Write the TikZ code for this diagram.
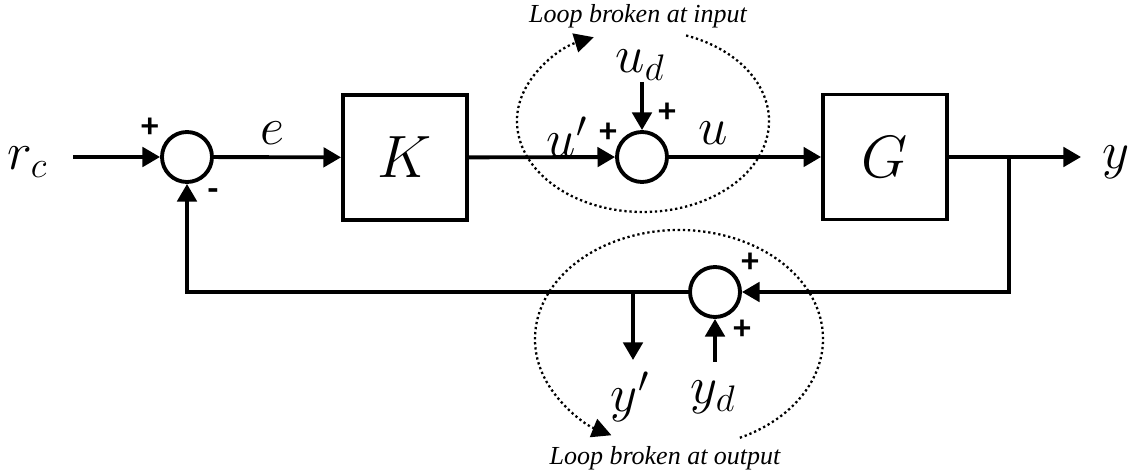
\documentclass[tikz,border=0pt]{standalone}
\usepackage{fix-cm}
\usepackage{fontspec}
\usepackage{tikz}
\usetikzlibrary{positioning, calc, arrows.meta}
\newfontfamily\notefont{Liberation Serif}
\newfontfamily\signfont{Carlito}

\begin{document}
\begin{tikzpicture}[
  line width=2.2pt,
  sumnode/.style={circle, draw, minimum size=1cm, inner sep=0pt},
  block/.style={draw, minimum width=2.48cm, minimum height=2.5cm, inner sep=0pt,
                font=\fontsize{34}{40}\selectfont},
  sig/.style={-{Triangle[length=10pt,width=11pt]}},
  lbl/.style={inner sep=0pt, font=\fontsize{30}{34}\selectfont},
  sign/.style={inner sep=0pt, font=\signfont\bfseries\fontsize{20}{22}\selectfont},
  loopline/.style={line width=1.3pt, dash pattern=on 1.3pt off 1.6pt,
                   -{Triangle[length=11pt,width=11pt]}},
  note/.style={inner sep=0pt, font=\notefont\itshape\fontsize{14.8}{17}\selectfont}
]
\useasboundingbox (0,0) rectangle (22.72,-9.48);

%% ── forward path ─────────────────────────────────────────────────
\node[lbl] (rc) at (0.55,-3.24) {$r_c$};
\coordinate (in) at (1.46,-3.14);
\node[sumnode] (s1) at (3.74,-3.14) {};
\node[block] (K) at (8.10,-3.15) {$K$};
\node[sumnode] (s2) at (12.84,-3.14) {};
\node[block] (G) at (17.70,-3.14) {$G$};
\coordinate (br) at (20.18,-3.14);
\coordinate (out) at (21.62,-3.14);
\node[lbl] (y) at (22.32,-3.24) {$y$};

\draw[sig] (in) -- (s1.west);
\draw[sig] (s1) -- (K);
\draw[sig] (K) -- (s2);
\draw[sig] (s2) -- (G);
\draw[sig] (G.east) -- (out);

% input disturbance
\node[lbl] (ud) at (12.80,-1.30) {$u_d$};
\coordinate (udin) at (12.84,-1.64);
\draw[sig] (udin) -- (s2.north);

%% ── feedback path ────────────────────────────────────────────────
\node[sumnode] (s3) at (14.30,-5.84) {};
\coordinate (fbr) at (br |- s3);
\coordinate (fbl) at (s1 |- s3);
\draw[sig] (br) -- (fbr) -- (s3.east);
\draw[sig] (s3.west) -- (fbl) -- (s1.south);

% output disturbance + broken-loop tap
\node[lbl] (yd) at (14.26,-7.94) {$y_d$};
\coordinate (ydin) at (14.30,-7.24);
\draw[sig] (ydin) -- (s3.south);
\coordinate (ytap) at (12.66,-5.84);
\coordinate (yend) at (12.66,-7.20);
\draw[sig] (ytap) -- (yend);
\node[lbl] (yp) at (12.60,-7.94) {$y'$};

%% ── signal labels ────────────────────────────────────────────────
\node[lbl] (e) at (5.44,-2.66) {$e$};
\node[lbl] (up) at (11.34,-2.74) {$u'$};
\node[lbl] (u) at (14.26,-2.66) {$u$};

%% ── signs at the summing junctions ───────────────────────────────
\foreach \p/\s [count=\i] in {{3.00,-2.56}/+, {4.26,-3.90}/-, {12.16,-2.66}/+,
                              {13.34,-2.26}/+, {15.00,-5.26}/+, {14.84,-6.60}/+}{
  \node[sign] (sg\i) at (\p) {\s};
}

%% ── loop-breaking points (dotted) ────────────────────────────────
\coordinate (topc) at (12.86,-2.42);
\coordinate (botc) at (13.58,-6.78);
\draw[loopline] ([shift={(70:2.52 and 1.82)}]topc)
  arc[start angle=70, end angle=-247, x radius=2.52, y radius=1.82];
\draw[loopline] ([shift={(-65:2.88 and 2.18)}]botc)
  arc[start angle=-65, end angle=242, x radius=2.88, y radius=2.18];

\node[note] (nin) at (12.76,-0.32) {Loop broken at input};
\node[note] (nout) at (13.30,-9.16) {Loop broken at output};

\end{tikzpicture}
\end{document}
